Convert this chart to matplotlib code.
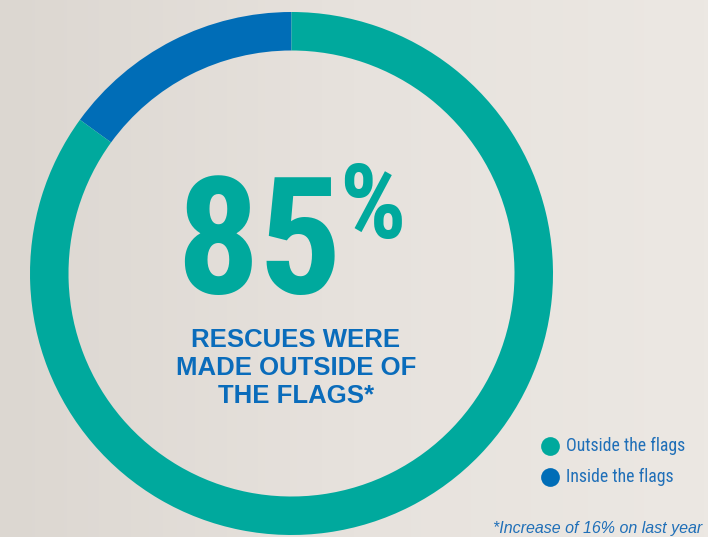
import numpy as np
import matplotlib
matplotlib.use('Agg')
import matplotlib.pyplot as plt

# data
labels = ['Outside the flags', 'Inside the flags']
shares = [85, 15]
colors = ['#00a99d', '#006db7']
headline = '85'
subtitle = 'RESCUES WERE\nMADE OUTSIDE OF\nTHE FLAGS*'
footnote = '*Increase of 16% on last year'

W, H = 708, 537
fig = plt.figure(figsize=(W/100, H/100), dpi=100)
ax = fig.add_axes([0, 0, 1, 1])

# soft paper-like background
grad = np.linspace(0, 1, 200).reshape(1, -1)
bg = matplotlib.colors.LinearSegmentedColormap.from_list('bg', ['#dcd7d1', '#e7e2dd', '#ece8e3'])
ax.imshow(grad, cmap=bg, extent=[0, W, 0, H], aspect='auto', zorder=0)

# donut: inside segment first so it starts at 12 o'clock going counter-clockwise
cx, cy, r = 291.5, H - 273.5, 261.5
ax.pie(shares[::-1], colors=colors[::-1], startangle=90, counterclock=True,
       radius=r, center=(cx, cy), frame=True,
       wedgeprops=dict(width=38.5, linewidth=0))

ax.set_xlim(0, W)
ax.set_ylim(0, H)
ax.set_aspect('auto')
ax.set_axis_off()

ax.text(259.5, H - 293, headline, fontsize=118, fontweight='bold', color=colors[0],
        family=['Roboto Condensed'], ha='center', va='baseline')
ax.text(339, H - 238, '%', fontsize=75, fontweight='bold', color=colors[0],
        family=['Roboto Condensed'], ha='left', va='baseline')
ax.text(296, H - 368, subtitle, fontsize=18.5, fontweight='bold', color='#0a6cbb',
        family=['Liberation Sans'], ha='center', va='center', linespacing=1.22)

# legend
for i, lab in enumerate(labels):
    y = H - (446 + 31 * i)
    ax.plot(550, y, 'o', ms=13.5, color=colors[i], mec='none')
    ax.text(566, y, lab, fontsize=12.8, color='#1f6fb8',
            family=['Roboto Condensed'], ha='left', va='center')

ax.text(702, H - 528, footnote, fontsize=11.5, style='italic', color='#1f6fb8',
        family=['Liberation Sans'], ha='right', va='center')

fig.savefig('out.png', dpi=100)
